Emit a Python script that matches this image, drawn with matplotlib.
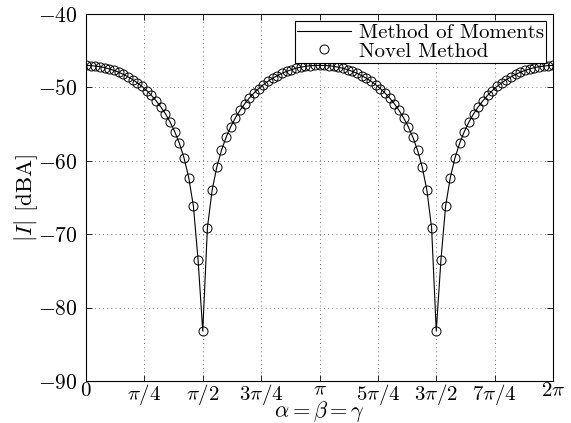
import numpy as np
import matplotlib
matplotlib.use('Agg')
import matplotlib.pyplot as plt

plt.rcParams['font.family'] = 'serif'
plt.rcParams['font.serif'] = ['cmr10']
plt.rcParams['mathtext.fontset'] = 'cm'
plt.rcParams['axes.unicode_minus'] = False

# Sample index k -> alpha = k * 2pi / 100
n_samples = 101
# |I| in dBA (k = 0..100)
current_db = [
    -47.00, -47.03, -47.09, -47.18, -47.31, -47.48, -47.69, -47.93, -48.22, -48.56,
    -48.94, -49.38, -49.87, -50.44, -51.08, -51.81, -52.64, -53.59, -54.71, -56.03,
    -57.62, -59.63, -62.30, -66.18, -73.51, -83.19, -69.12, -64.03, -60.87, -58.58,
    -56.80, -55.35, -54.14, -53.10, -52.21, -51.43, -50.75, -50.15, -49.62, -49.15,
    -48.74, -48.39, -48.07, -47.81, -47.58, -47.39, -47.24, -47.13, -47.05, -47.01,
    -47.00,
    -47.01, -47.05, -47.13, -47.24, -47.39, -47.58, -47.81, -48.07, -48.39, -48.74,
    -49.15, -49.62, -50.15, -50.75, -51.43, -52.21, -53.10, -54.14, -55.35, -56.80,
    -58.58, -60.87, -64.03, -69.12, -83.19, -73.51, -66.18, -62.30, -59.63, -57.62,
    -56.03, -54.71, -53.59, -52.64, -51.81, -51.08, -50.44, -49.87, -49.38, -48.94,
    -48.56, -48.22, -47.93, -47.69, -47.48, -47.31, -47.18, -47.09, -47.03, -47.00,
]
xtick_labels = ['$0$', r'$\pi/4$', r'$\pi/2$', r'$3\pi/4$', r'$\pi$',
                r'$5\pi/4$', r'$3\pi/2$', r'$7\pi/4$', r'$2\pi$']
ytick_values = [-90, -80, -70, -60, -50, -40]

alpha = np.linspace(0, 2 * np.pi, n_samples)

fig = plt.figure(figsize=(5.71, 4.23), dpi=100)
ax = fig.add_axes([0.1506, 0.0993, 0.8179, 0.8676])

ax.plot(alpha, current_db, color='black', linewidth=0.8, label='Method of Moments')
ax.plot(alpha, current_db, linestyle='none', marker='o', markersize=6.5,
        markerfacecolor='none', markeredgecolor='black', markeredgewidth=0.7,
        label='Novel Method')

ax.set_xlim(0, 2 * np.pi)
ax.set_ylim(-90, -40)
ax.set_xticks(np.arange(9) * np.pi / 4)
ax.set_xticklabels(xtick_labels, fontsize=15)
ax.set_yticks(ytick_values)
ax.set_yticklabels(['$%d$' % v for v in ytick_values], fontsize=15.5)
ax.tick_params(direction='in', top=True, right=True, length=4, width=0.6)
ax.tick_params(axis='x', pad=0.5)
ax.tick_params(axis='y', pad=6)

ax.grid(True, linestyle=(0, (1, 4)), color='#555555', linewidth=0.6)

for spine in ax.spines.values():
    spine.set_linewidth(0.8)

ax.set_xlabel(r'$\alpha = \beta = \gamma$', fontsize=16, labelpad=-5.3)
ax.set_ylabel(r'$|I|$ [dBA]', fontsize=16.5, labelpad=-1)

leg = ax.legend(loc='upper right', borderaxespad=0.35, fancybox=False,
                edgecolor='black', framealpha=1, fontsize=15,
                handlelength=2.6, labelspacing=0.0, borderpad=0.1,
                handletextpad=0.35)
leg.get_frame().set_linewidth(0.8)

fig.savefig('out.png', dpi=100)
